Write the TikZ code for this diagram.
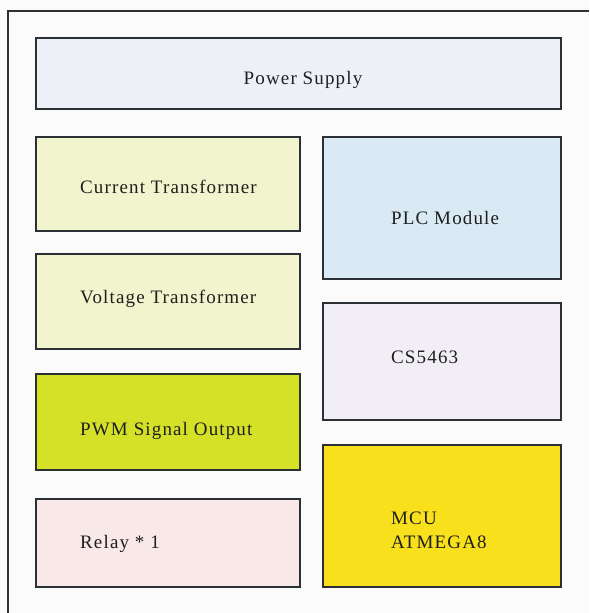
\documentclass[tikz,border=0pt]{standalone}
\usepackage{fontspec}
\setmainfont{Liberation Serif}[LetterSpace=6]
\definecolor{bgc}{HTML}{FBFBFC}
\definecolor{framec}{HTML}{2B3035}
\definecolor{psc}{HTML}{EDF1F7}
\definecolor{trc}{HTML}{F1F4CC}
\definecolor{pwmc}{HTML}{D5E127}
\definecolor{relc}{HTML}{F8E8E8}
\definecolor{plcc}{HTML}{DAEAF5}
\definecolor{csc}{HTML}{F1EFF5}
\definecolor{mcuc}{HTML}{F8E01C}
\begin{document}
\begin{tikzpicture}[x=1pt,y=-1pt,
  blk/.style={draw=framec,line width=1.5pt,rectangle,inner sep=0pt},
  lbl/.style={inner sep=0pt,font=\fontsize{19}{25}\selectfont,text=black!88}]
\fill[bgc] (0,0) rectangle (589,613);
\useasboundingbox (0,0) rectangle (589,613);
\coordinate (fa) at (8,613);
\coordinate (fb) at (8,11);
\coordinate (fc) at (589,11);
\draw[framec,line width=1.5pt] (fa) -- (fb) -- (fc);
% boxes
\path[blk,fill=psc]  (36,38) rectangle (561,109);
\path[blk,fill=trc]  (36,137) rectangle (300,231);
\path[blk,fill=trc]  (36,254) rectangle (300,349);
\path[blk,fill=pwmc] (36,374) rectangle (300,470);
\path[blk,fill=relc] (36,499) rectangle (300,587);
\path[blk,fill=plcc] (323,137) rectangle (561,279);
\path[blk,fill=csc]  (323,303) rectangle (561,420);
\path[blk,fill=mcuc] (323,445) rectangle (561,587);
% labels
\node[lbl,anchor=base] (ps) at (303,84) {Power Supply};
\node[lbl,anchor=base west] (ct) at (80,193) {Current Transformer};
\node[lbl,anchor=base west] (vt) at (80,303) {Voltage Transformer};
\node[lbl,anchor=base west] (pwm) at (80,435) {PWM Signal Output};
\node[lbl,anchor=base west] (rel) at (80,548) {Relay * 1};
\node[lbl,anchor=base west] (plc) at (391,224) {PLC Module};
\node[lbl,anchor=base west] (cs) at (391,363) {CS5463};
\node[lbl,anchor=base west] (mcu) at (391,524) {MCU};
\node[lbl,anchor=base west] (atm) at (391,548) {ATMEGA8};
\end{tikzpicture}
\end{document}
